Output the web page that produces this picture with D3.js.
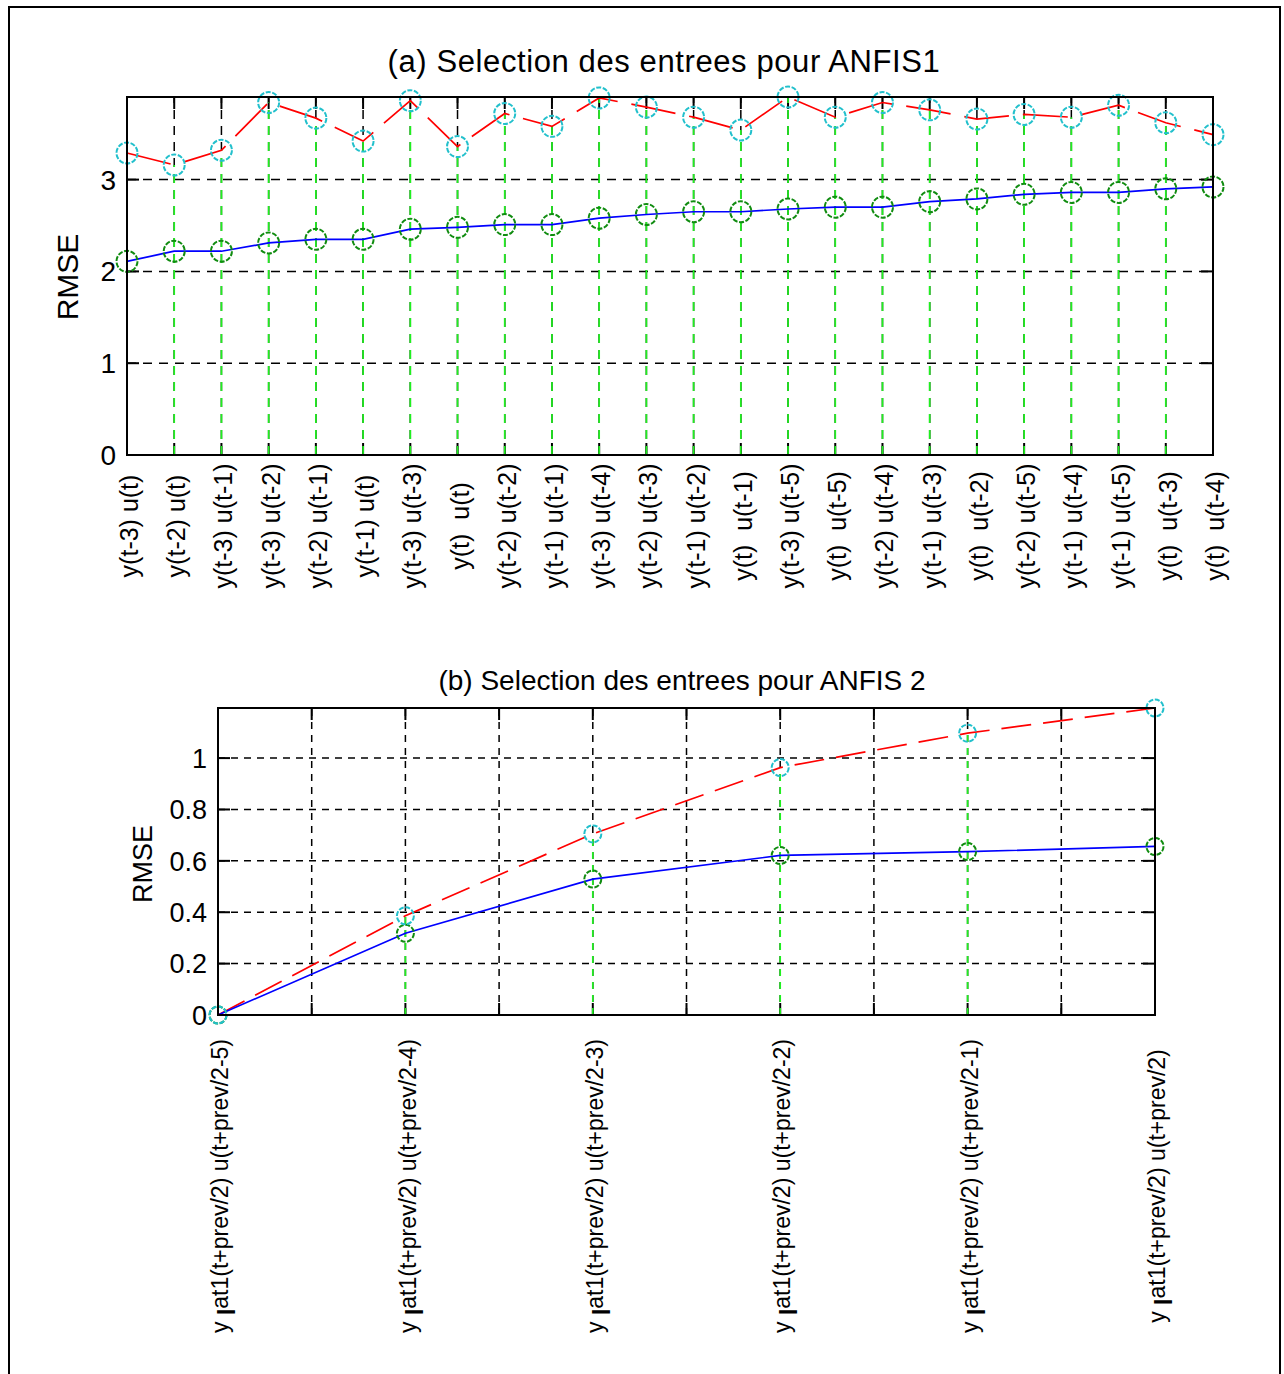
<!DOCTYPE html>
<html>
<head>
<meta charset="utf-8">
<script src="https://cdn.jsdelivr.net/npm/d3@7"></script>
<style>
  html, body { margin: 0; padding: 0; background: #fff; }
  svg { display: block; }
  text { font-family: "Liberation Sans", Arial, Helvetica, sans-serif; fill: #000; }
</style>
</head>
<body>
<svg id="chart" width="1284" height="1374"></svg>
<script>
// ---------------- Data: chart (a) ----------------
const categoriesA = [
  "y(t-3) u(t)", "y(t-2) u(t)", "y(t-3) u(t-1)", "y(t-3) u(t-2)", "y(t-2) u(t-1)",
  "y(t-1) u(t)", "y(t-3) u(t-3)", "y(t)  u(t)", "y(t-2) u(t-2)", "y(t-1) u(t-1)",
  "y(t-3) u(t-4)", "y(t-2) u(t-3)", "y(t-1) u(t-2)", "y(t)  u(t-1)", "y(t-3) u(t-5)",
  "y(t)  u(t-5)", "y(t-2) u(t-4)", "y(t-1) u(t-3)", "y(t)  u(t-2)", "y(t-2) u(t-5)",
  "y(t-1) u(t-4)", "y(t-1) u(t-5)", "y(t)  u(t-3)", "y(t)  u(t-4)"
];
const redA = [3.29, 3.16, 3.32, 3.84, 3.67, 3.42, 3.86, 3.36, 3.72, 3.58, 3.89, 3.79,
              3.68, 3.54, 3.90, 3.68, 3.84, 3.76, 3.66, 3.71, 3.68, 3.81, 3.62, 3.49];
const blueA = [2.11, 2.22, 2.22, 2.31, 2.35, 2.35, 2.46, 2.48, 2.51, 2.51, 2.58, 2.62,
               2.65, 2.65, 2.68, 2.70, 2.70, 2.76, 2.79, 2.84, 2.86, 2.86, 2.90, 2.92];
const yTicksA = [0, 1, 2, 3];
const titleA = "(a) Selection des entrees pour ANFIS1";

// ---------------- Data: chart (b) ----------------
const categoriesB = [
  "y_lat1(t+prev/2) u(t+prev/2-5)",
  "y_lat1(t+prev/2) u(t+prev/2-4)",
  "y_lat1(t+prev/2) u(t+prev/2-3)",
  "y_lat1(t+prev/2) u(t+prev/2-2)",
  "y_lat1(t+prev/2) u(t+prev/2-1)",
  "y_lat1(t+prev/2) u(t+prev/2)"
];
const redB = [0, 0.386, 0.705, 0.963, 1.097, 1.195];
const blueB = [0, 0.318, 0.529, 0.621, 0.636, 0.656];
const yTicksB = [0, 0.2, 0.4, 0.6, 0.8, 1];
const yTickLabelsB = ["0", "0.2", "0.4", "0.6", "0.8", "1"];
const titleB = "(b) Selection des entrees pour ANFIS 2";
const yLabel = "RMSE";

// ---------------- Styles ----------------
const C = {
  red: "#ff0000", blue: "#0000ff", cyan: "#22c0cc", dkgreen: "#108c10",
  stem: "#1ff01f", grid: "#000"
};

const svg = d3.select("#chart");

// outer frame
svg.append("rect").attr("x", 9).attr("y", 7).attr("width", 1271).attr("height", 1380)
  .attr("fill", "none").attr("stroke", "#000").attr("stroke-width", 2);

function drawPanel(cfg) {
  const g = svg.append("g");
  const { left, right, top, bottom } = cfg;
  const x = cfg.x, y = cfg.y;
  const dash = cfg.gridDash;

  // horizontal grid
  g.selectAll(".hg").data(cfg.yTicks.filter(d => d > 0)).join("line")
    .attr("x1", left).attr("x2", right)
    .attr("y1", d => y(d)).attr("y2", d => y(d))
    .attr("stroke", C.grid).attr("stroke-width", 1.5).attr("stroke-dasharray", dash);

  // vertical grid (drawn from bottom upward)
  g.selectAll(".vg").data(cfg.xGrid).join("line")
    .attr("x1", d => x(d)).attr("x2", d => x(d))
    .attr("y1", bottom).attr("y2", top)
    .attr("stroke", C.grid).attr("stroke-width", 1.5).attr("stroke-dasharray", dash);

  // ticks (inward, all four sides)
  const tl = cfg.tickLen;
  cfg.xGrid.forEach(d => {
    g.append("line").attr("x1", x(d)).attr("x2", x(d)).attr("y1", bottom).attr("y2", bottom - tl)
      .attr("stroke", "#000").attr("stroke-width", 2);
    g.append("line").attr("x1", x(d)).attr("x2", x(d)).attr("y1", top).attr("y2", top + tl)
      .attr("stroke", "#000").attr("stroke-width", 2);
  });
  cfg.yTicks.forEach(d => {
    g.append("line").attr("x1", left).attr("x2", left + tl).attr("y1", y(d)).attr("y2", y(d))
      .attr("stroke", "#000").attr("stroke-width", 2);
    g.append("line").attr("x1", right).attr("x2", right - tl).attr("y1", y(d)).attr("y2", y(d))
      .attr("stroke", "#000").attr("stroke-width", 2);
  });

  // green stems from bottom to red value
  g.selectAll(".stem").data(cfg.red).join("line")
    .attr("x1", (d, i) => x(cfg.xs[i])).attr("x2", (d, i) => x(cfg.xs[i]))
    .attr("y1", bottom).attr("y2", d => y(d))
    .attr("stroke", C.stem).attr("stroke-width", 1.7).attr("stroke-dasharray", dash);

  // lines
  const line = d3.line().x((d, i) => x(cfg.xs[i])).y(d => y(d));
  g.append("path").datum(cfg.red).attr("d", line)
    .attr("fill", "none").attr("stroke", C.red).attr("stroke-width", 1.7)
    .attr("stroke-dasharray", cfg.redDash);
  g.append("path").datum(cfg.blue).attr("d", line)
    .attr("fill", "none").attr("stroke", C.blue).attr("stroke-width", 1.7);

  // markers
  g.selectAll(".mb").data(cfg.blue).join("circle")
    .attr("cx", (d, i) => x(cfg.xs[i])).attr("cy", d => y(d)).attr("r", cfg.r)
    .attr("fill", "none").attr("stroke", C.dkgreen).attr("stroke-width", 2)
    .attr("stroke-dasharray", "5,1.6");
  g.selectAll(".mr").data(cfg.red).join("circle")
    .attr("cx", (d, i) => x(cfg.xs[i])).attr("cy", d => y(d)).attr("r", cfg.r)
    .attr("fill", "none").attr("stroke", C.cyan).attr("stroke-width", 2)
    .attr("stroke-dasharray", "5,1.6");

  // frame
  g.append("rect").attr("x", left).attr("y", top).attr("width", right - left).attr("height", bottom - top)
    .attr("fill", "none").attr("stroke", "#000").attr("stroke-width", 2);

  // y tick labels
  g.selectAll(".yl").data(cfg.yTicks).join("text")
    .attr("x", left - cfg.yLabelGap).attr("y", d => y(d)).attr("dy", "0.36em")
    .attr("text-anchor", "end").attr("font-size", cfg.tickFont)
    .text((d, i) => cfg.yTickLabels[i]);

  // y axis label
  g.append("text")
    .attr("transform", `translate(${cfg.yTitleX},${cfg.yTitleY}) rotate(-90)`)
    .attr("text-anchor", "middle").attr("dy", "0.36em")
    .attr("font-size", cfg.yTitleFont).text(yLabel);

  // title
  g.append("text").attr("x", cfg.titleX).attr("y", cfg.titleY)
    .attr("text-anchor", "middle").attr("font-size", cfg.titleFont)
    .attr("letter-spacing", cfg.titleSpacing)
    .text(cfg.title);

  // x category labels (rotated, centered)
  const xl = g.selectAll(".xl").data(cfg.cats).join("text")
    .attr("transform", (d, i) => `translate(${x(cfg.xs[i]) + cfg.xLabelDx},${cfg.xLabelY}) rotate(-90)`)
    .attr("text-anchor", "middle").attr("dy", "0.36em")
    .attr("font-size", cfg.xFont)
    .style("white-space", "pre");
  xl.each(function (d) {
    const t = d3.select(this);
    const m = d.match(/^(.*?)_(.)(.*)$/);
    if (m) {
      t.append("tspan").text(m[1] + " ");
      t.append("tspan").attr("dy", "0.3em").attr("font-weight", "bold").text(m[2]);
      t.append("tspan").attr("dy", "-0.3em").text(m[3]);
    } else {
      t.text(d);
    }
  });
}

// ----- Panel A -----
const idxA = d3.range(categoriesA.length);
const xA = d3.scalePoint().domain(idxA).range([127, 1213]);
const yA = d3.scaleLinear().domain([0, d3.max(redA)]).range([455, 97]);
drawPanel({
  left: 127, right: 1213, top: 97, bottom: 455,
  x: xA, y: yA, xs: idxA, xGrid: idxA,
  red: redA, blue: blueA, cats: categoriesA,
  yTicks: yTicksA, yTickLabels: yTicksA.map(String),
  gridDash: "9,7", redDash: "45,14", tickLen: 12, r: 10.5,
  tickFont: 28, yLabelGap: 11,
  yTitleX: 67, yTitleY: 277, yTitleFont: 30,
  title: titleA, titleX: 664, titleY: 72, titleFont: 31, titleSpacing: 0.6,
  xFont: 25, xLabelY: 526, xLabelDx: 2
});

// ----- Panel B -----
const idxB = d3.range(categoriesB.length);
const xB = d3.scaleLinear().domain([0, categoriesB.length - 1]).range([218, 1155]);
const yB = d3.scaleLinear().domain([0, d3.max(redB)]).range([1015, 708]);
drawPanel({
  left: 218, right: 1155, top: 708, bottom: 1015,
  x: xB, y: yB, xs: idxB, xGrid: d3.range(0, categoriesB.length - 0.99, 0.5),
  red: redB, blue: blueB, cats: categoriesB,
  yTicks: yTicksB, yTickLabels: yTickLabelsB,
  gridDash: "7,6", redDash: "30,12", tickLen: 12, r: 8.5,
  tickFont: 27, yLabelGap: 11,
  yTitleX: 142, yTitleY: 864, yTitleFont: 27,
  title: titleB, titleX: 682, titleY: 690, titleFont: 28, titleSpacing: 0,
  xFont: 23, xLabelY: 1186, xLabelDx: 2
});
</script>
</body>
</html>
